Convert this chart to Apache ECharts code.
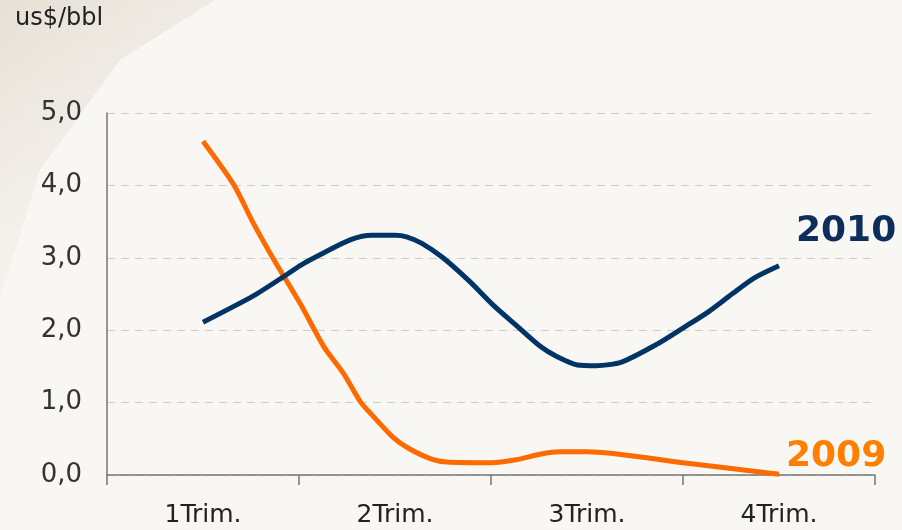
<!DOCTYPE html>
<html>
<head>
<meta charset="utf-8">
<script src="https://cdn.jsdelivr.net/npm/echarts@6/dist/echarts.min.js"></script>
<style>
    html, body { margin: 0; padding: 0; background: #f9f7f3; }
    #chart { width: 902px; height: 530px; }
</style>
</head>
<body>
<div id="chart"></div>
<script>
// trimestres
var categories = ['1Trim.', '2Trim.', '3Trim.', '4Trim.']
var yTicks = [0, 1, 2, 3, 4, 5]

// x en trimestres (0.5 = centro de 1Trim.), y en us$/bbl
var x2010 = [0.50, 0.76, 0.92, 1.01, 1.13, 1.27, 1.38, 1.50, 1.56, 1.64, 1.75, 1.89, 2.01, 2.13, 2.26, 2.34, 2.45, 2.55, 2.68, 2.86, 3.00, 3.13, 3.26, 3.37, 3.50]
var y2010 = [2.11, 2.47, 2.74, 2.90, 3.07, 3.25, 3.31, 3.31, 3.29, 3.20, 3.00, 2.67, 2.35, 2.07, 1.77, 1.64, 1.52, 1.51, 1.56, 1.80, 2.03, 2.25, 2.51, 2.72, 2.89]

var x2009 = [0.50, 0.66, 0.76, 0.87, 1.01, 1.13, 1.23, 1.32, 1.38, 1.49, 1.57, 1.69, 1.77, 2.00, 2.13, 2.26, 2.36, 2.50, 3.00, 3.50]
var y2009 = [4.61, 4.01, 3.49, 2.97, 2.35, 1.77, 1.41, 1.01, 0.83, 0.52, 0.37, 0.22, 0.18, 0.17, 0.21, 0.29, 0.32, 0.32, 0.17, 0.01]

function pairs(xs, ys) {
    return xs.map(function (x, i) { return [x, ys[i]] })
}

var chart = echarts.init(document.getElementById('chart'))
chart.setOption({
    backgroundColor: '#f9f7f3',
    animation: false,
    graphic: [
        // fondo: franja beige arriba a la izquierda
        {
            type: 'polygon',
            silent: true,
            z: -10,
            shape: { points: [[0, 0], [215, 0], [120, 60], [40, 170], [0, 300]] },
            style: {
                fill: new echarts.graphic.LinearGradient(0, 0, 1, 1, [
                    { offset: 0, color: 'rgba(215,205,190,0.55)' },
                    { offset: 0.6, color: 'rgba(235,230,222,0.35)' },
                    { offset: 1, color: 'rgba(249,247,243,0)' }
                ])
            }
        },
        {
            type: 'text',
            left: 15,
            top: 7,
            style: { text: 'us$/bbl', font: '24px "DejaVu Sans"', fill: '#222' }
        },
        {
            type: 'text',
            left: 796,
            top: 214,
            style: { text: '2010', font: 'bold 36px "DejaVu Sans"', fill: '#0d2d5c' }
        },
        {
            type: 'text',
            left: 786,
            top: 439,
            style: { text: '2009', font: 'bold 36px "DejaVu Sans"', fill: '#ff7f00' }
        }
    ],
    grid: {
        left: 107,
        right: 27,
        top: 113,
        bottom: 55
    },
    xAxis: [
        {
            type: 'value',
            min: 0,
            max: 4,
            interval: 1,
            axisLine: { show: true, lineStyle: { color: '#777', width: 1.5 } },
            axisTick: { show: true, length: 10, lineStyle: { color: '#777', width: 1.5 } },
            axisLabel: { show: false },
            splitLine: { show: false }
        },
        {
            type: 'category',
            position: 'bottom',
            data: categories,
            boundaryGap: true,
            axisLine: { show: false },
            axisTick: { show: false },
            axisLabel: {
                margin: 28,
                fontSize: 25,
                color: '#222',
                fontFamily: '"DejaVu Sans", sans-serif'
            }
        }
    ],
    yAxis: {
        type: 'value',
        min: yTicks[0],
        max: yTicks[yTicks.length - 1],
        interval: 1,
        axisLine: { show: true, lineStyle: { color: '#777', width: 1.5 } },
        axisTick: { show: false },
        axisLabel: {
            margin: 25,
            fontSize: 26,
            color: '#333',
            fontFamily: '"DejaVu Sans", sans-serif',
            formatter: function (v) { return v.toFixed(1).replace('.', ',') }
        },
        splitLine: { lineStyle: { color: '#cfcccb', type: [8, 6], width: 1 } }
    },
    series: [
        {
            name: '2009',
            type: 'line',
            xAxisIndex: 0,
            data: pairs(x2009, y2009),
            smooth: 0.25,
            showSymbol: false,
            lineStyle: { color: '#ff6a00', width: 5 },
            z: 3
        },
        {
            name: '2010',
            type: 'line',
            xAxisIndex: 0,
            data: pairs(x2010, y2010),
            smooth: 0.25,
            showSymbol: false,
            lineStyle: { color: '#003366', width: 5 },
            z: 4
        }
    ]
})
</script>
</body>
</html>
